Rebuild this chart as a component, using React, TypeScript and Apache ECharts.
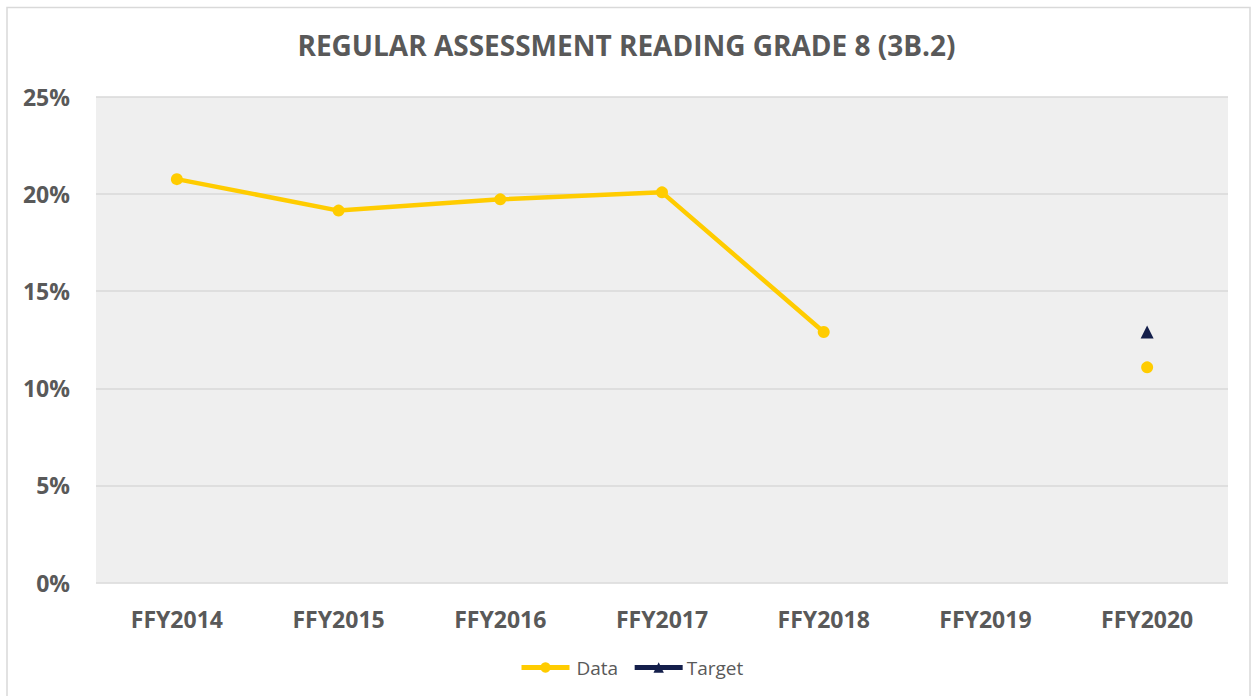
import React, { useEffect, useRef } from "react";
import * as echarts from "echarts";

const categories = ["FFY2014", "FFY2015", "FFY2016", "FFY2017", "FFY2018", "FFY2019", "FFY2020"];
const dataValues = [20.77, 19.15, 19.73, 20.09, 12.9, null, 11.08];
const targetValues = [null, null, null, null, null, null, 12.9];
const yTicks = { min: 0, max: 25, interval: 5 };

const FONT = "'Open Sans', 'Liberation Sans', sans-serif";
const GRAY = "#595959";
const YELLOW = "#FFCC00";
const NAVY = "#141F4B";

export default function App() {
  const ref = useRef<HTMLDivElement>(null);
  useEffect(() => {
    document.body.style.margin = "0";
    const chart = echarts.init(ref.current!, null, { renderer: "svg" });
    chart.setOption({
      animation: false,
      backgroundColor: "#ffffff",
      textStyle: { fontFamily: FONT },
      title: {
        text: "REGULAR ASSESSMENT READING GRADE 8 (3B.2)",
        left: "center",
        top: 26,
        textStyle: { fontFamily: FONT, fontSize: 28, fontWeight: "bold", color: GRAY },
      },
      graphic: [
        {
          type: "rect",
          shape: { x: 7, y: 7.5, width: 1243, height: 700 },
          style: { fill: "none", stroke: "#d9d9d9", lineWidth: 1.5 },
          silent: true,
        },
      ],
      grid: {
        left: 96,
        right: 25,
        top: 97,
        bottom: 113.5,
        show: true,
        backgroundColor: "#efefef",
        borderWidth: 0,
      },
      legend: {
        bottom: 14,
        left: 514,
        itemWidth: 48,
        itemHeight: 13,
        itemGap: 14,
        lineStyle: { width: 5 },
        textStyle: { fontFamily: FONT, fontSize: 19, color: GRAY },
        data: [
          { name: "Data", textStyle: { padding: [0, 0, 0, 2] } },
          { name: "Target", textStyle: { padding: [0, 0, 0, -1] } },
        ],
      },
      xAxis: {
        type: "category",
        data: categories,
        boundaryGap: true,
        axisLine: { show: false },
        axisTick: { show: false },
        axisLabel: { margin: 25, fontFamily: FONT, fontSize: 23, fontWeight: "bold", color: GRAY },
      },
      yAxis: {
        type: "value",
        min: yTicks.min,
        max: yTicks.max,
        interval: yTicks.interval,
        axisLine: { show: false },
        axisTick: { show: false },
        splitLine: { lineStyle: { color: "#d9d9d9", width: 1.5 } },
        axisLabel: {
          margin: 26,
          formatter: "{value}%",
          fontFamily: FONT,
          fontSize: 23,
          fontWeight: "bold",
          color: GRAY,
        },
      },
      series: [
        {
          name: "Data",
          type: "line",
          data: dataValues,
          connectNulls: false,
          symbol: "circle",
          symbolSize: 12,
          showAllSymbol: true,
          lineStyle: { color: YELLOW, width: 4.5 },
          itemStyle: { color: YELLOW },
        },
        {
          name: "Target",
          type: "line",
          data: targetValues,
          symbol: "triangle",
          symbolSize: 13,
          showAllSymbol: true,
          lineStyle: { color: NAVY, width: 4.5 },
          itemStyle: { color: NAVY },
        },
      ],
    });
    return () => chart.dispose();
  }, []);
  return <div ref={ref} style={{ width: 1253, height: 696 }} />;
}
